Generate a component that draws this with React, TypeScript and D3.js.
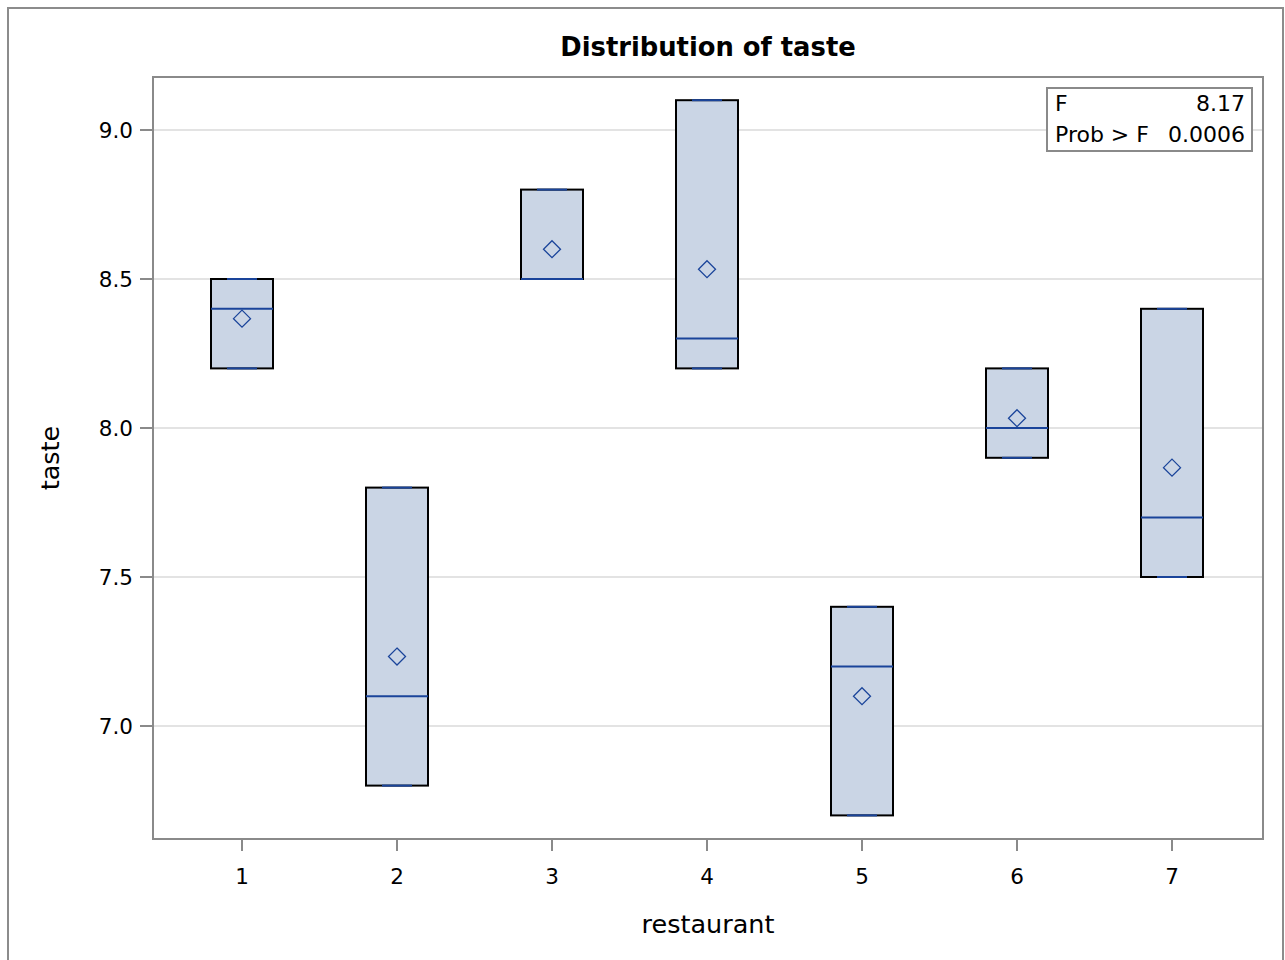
import React from "react";
import * as d3 from "d3";

const categories = [1, 2, 3, 4, 5, 6, 7];
const minVals = [8.2, 6.8, 8.5, 8.2, 6.7, 7.9, 7.5];
const q1Vals = [8.2, 6.8, 8.5, 8.2, 6.7, 7.9, 7.5];
const medianVals = [8.4, 7.1, 8.5, 8.3, 7.2, 8.0, 7.7];
const q3Vals = [8.5, 7.8, 8.8, 9.1, 7.4, 8.2, 8.4];
const maxVals = [8.5, 7.8, 8.8, 9.1, 7.4, 8.2, 8.4];
const meanVals = [8.367, 7.233, 8.6, 8.533, 7.1, 8.033, 7.867];
const yTicks = [7.0, 7.5, 8.0, 8.5, 9.0];
const statLabels = ["F", "Prob > F"];
const statValues = ["8.17", "0.0006"];

const FONT = "'DejaVu Sans', 'Open Sans', sans-serif";

export default function App() {
  const W = 1285, H = 960;
  const left = 153, right = 1263, top = 77, bottom = 839;
  const x = d3.scaleLinear().domain([1, 7]).range([242, 1172]);
  const y = d3.scaleLinear().domain([7.0, 9.0]).range([726, 130]);
  const halfW = 31;
  const capHalf = 15;
  const axisGray = "#8a8a8a";
  const fill = "#cad5e5";
  const blue = "#1a449a";
  const d = 8.5;

  return (
    <svg width={W} height={H} style={{ position: "absolute", left: 0, top: 0, fontFamily: FONT }}>
      <rect x={0} y={0} width={W} height={H} fill="#fff" />
      <rect x={8} y={8} width={1275} height={980} fill="none" stroke="#8c8c8c" strokeWidth={2} />
      <text x={708} y={56} textAnchor="middle" fontSize={25.8} fontWeight="bold" fill="#000">
        Distribution of taste
      </text>
      {yTicks.map((t) => (
        <line key={"g" + t} x1={left} x2={right} y1={y(t)} y2={y(t)} stroke="#e3e3e3" strokeWidth={2} />
      ))}
      {categories.map((c, i) => {
        const cx = x(c);
        return (
          <g key={"b" + c}>
            <rect
              x={cx - halfW}
              y={y(q3Vals[i])}
              width={halfW * 2}
              height={y(q1Vals[i]) - y(q3Vals[i])}
              fill={fill}
              stroke="#000"
              strokeWidth={2}
            />
            <line x1={cx - capHalf} x2={cx + capHalf} y1={y(maxVals[i])} y2={y(maxVals[i])} stroke={blue} strokeWidth={2} />
            <line x1={cx - capHalf} x2={cx + capHalf} y1={y(minVals[i])} y2={y(minVals[i])} stroke={blue} strokeWidth={2} />
            <line x1={cx - halfW} x2={cx + halfW} y1={y(medianVals[i])} y2={y(medianVals[i])} stroke={blue} strokeWidth={2} />
            <path
              d={`M${cx},${y(meanVals[i]) - d} L${cx + d},${y(meanVals[i])} L${cx},${y(meanVals[i]) + d} L${cx - d},${y(meanVals[i])} Z`}
              fill="none"
              stroke={blue}
              strokeWidth={1.3}
            />
          </g>
        );
      })}
      <rect x={left} y={top} width={right - left} height={bottom - top} fill="none" stroke={axisGray} strokeWidth={2} />
      {yTicks.map((t) => (
        <g key={"yt" + t}>
          <line x1={left - 13} x2={left} y1={y(t)} y2={y(t)} stroke={axisGray} strokeWidth={2} />
          <text x={left - 20} y={y(t) + 8} textAnchor="end" fontSize={21.5} fill="#000">
            {t.toFixed(1)}
          </text>
        </g>
      ))}
      {categories.map((c) => (
        <g key={"xt" + c}>
          <line x1={x(c)} x2={x(c)} y1={bottom} y2={bottom + 12} stroke={axisGray} strokeWidth={2} />
          <text x={x(c)} y={884} textAnchor="middle" fontSize={21.5} fill="#000">
            {c}
          </text>
        </g>
      ))}
      <text x={708} y={933} textAnchor="middle" fontSize={25.5} fill="#000">restaurant</text>
      <text transform="translate(59,458) rotate(-90)" textAnchor="middle" fontSize={25.5} fill="#000">taste</text>
      <rect x={1047} y={88} width={205} height={63} fill="#fff" stroke={axisGray} strokeWidth={2} />
      {statLabels.map((s, i) => (
        <g key={"s" + i}>
          <text x={1055} y={111 + i * 31} fontSize={22} fill="#000">{s}</text>
          <text x={1245} y={111 + i * 31} textAnchor="end" fontSize={22} fill="#000">{statValues[i]}</text>
        </g>
      ))}
    </svg>
  );
}
